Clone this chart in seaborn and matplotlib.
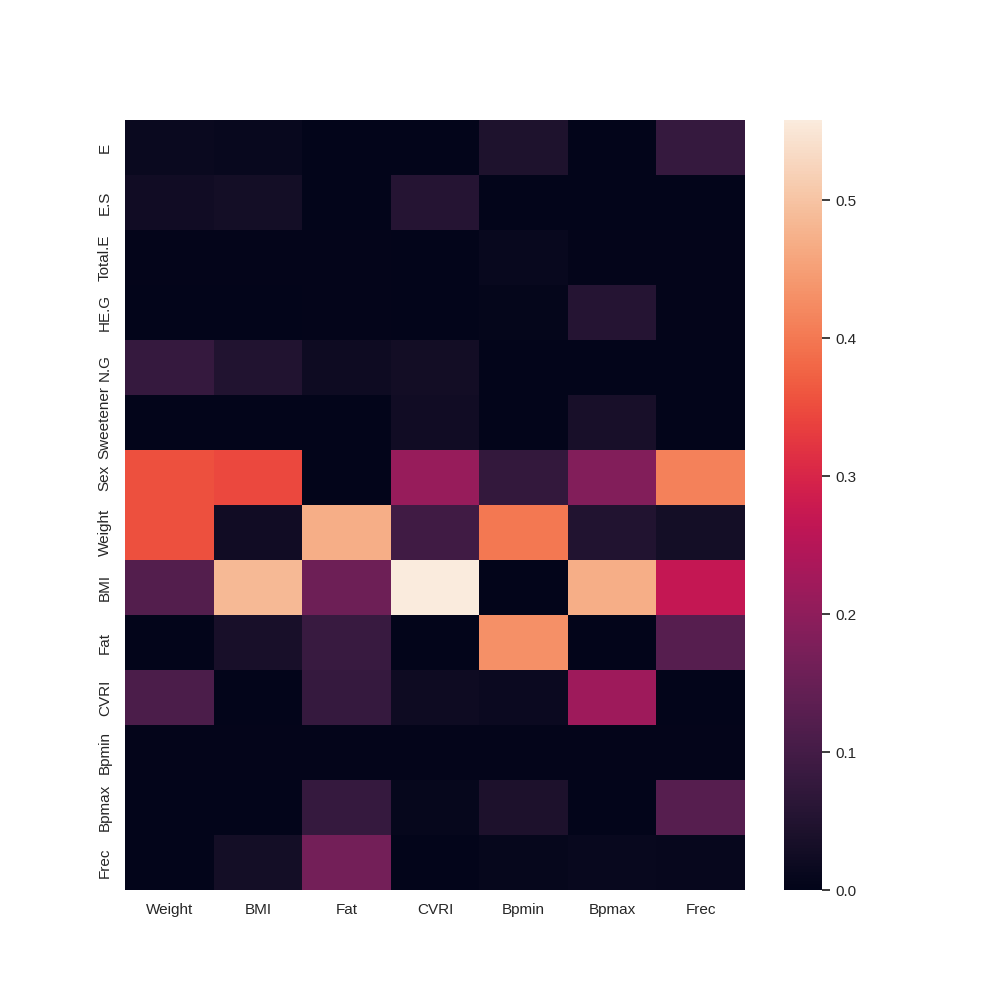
import pandas as pd
import seaborn as sns
import matplotlib.pyplot as plt

# =============================
# Data
# =============================
rows = ["E", "E.S", "Total.E", "HE.G", "N.G", "Sweetener", "Sex",
        "Weight", "BMI", "Fat", "CVRI", "Bpmin", "Bpmax", "Frec"]
cols = ["Weight", "BMI", "Fat", "CVRI", "Bpmin", "Bpmax", "Frec"]

E         = [0.015, 0.012, 0.001, 0.001, 0.045, 0.001, 0.080]
E_S       = [0.025, 0.030, 0.001, 0.055, 0.001, 0.001, 0.002]
Total_E   = [0.003, 0.003, 0.003, 0.002, 0.012, 0.003, 0.003]
HE_G      = [0.002, 0.002, 0.003, 0.002, 0.006, 0.055, 0.003]
N_G       = [0.080, 0.050, 0.020, 0.028, 0.001, 0.001, 0.002]
Sweetener = [0.002, 0.002, 0.001, 0.025, 0.001, 0.035, 0.002]
Sex       = [0.355, 0.345, 0.001, 0.210, 0.075, 0.185, 0.410]
Weight    = [0.355, 0.025, 0.470, 0.095, 0.400, 0.050, 0.030]
BMI       = [0.120, 0.485, 0.155, 0.558, 0.000, 0.470, 0.270]
Fat       = [0.001, 0.035, 0.085, 0.002, 0.430, 0.001, 0.125]
CVRI      = [0.110, 0.000, 0.080, 0.020, 0.017, 0.220, 0.001]
Bpmin     = [0.003, 0.003, 0.003, 0.003, 0.003, 0.003, 0.003]
Bpmax     = [0.001, 0.001, 0.080, 0.008, 0.042, 0.001, 0.125]
Frec      = [0.001, 0.030, 0.165, 0.000, 0.008, 0.012, 0.010]

df = pd.DataFrame(
    [E, E_S, Total_E, HE_G, N_G, Sweetener, Sex,
     Weight, BMI, Fat, CVRI, Bpmin, Bpmax, Frec],
    index=rows, columns=cols
)

# =============================
# Plot
# =============================
sns.set_theme(style="white")
plt.rcParams["font.family"] = ["Liberation Sans", "DejaVu Sans"]

fig, ax = plt.subplots(figsize=(10, 10))
sns.heatmap(df, ax=ax, vmin=0)
plt.setp(ax.get_yticklabels(), rotation=90, va="center")

plt.savefig("out.png", dpi=100)
